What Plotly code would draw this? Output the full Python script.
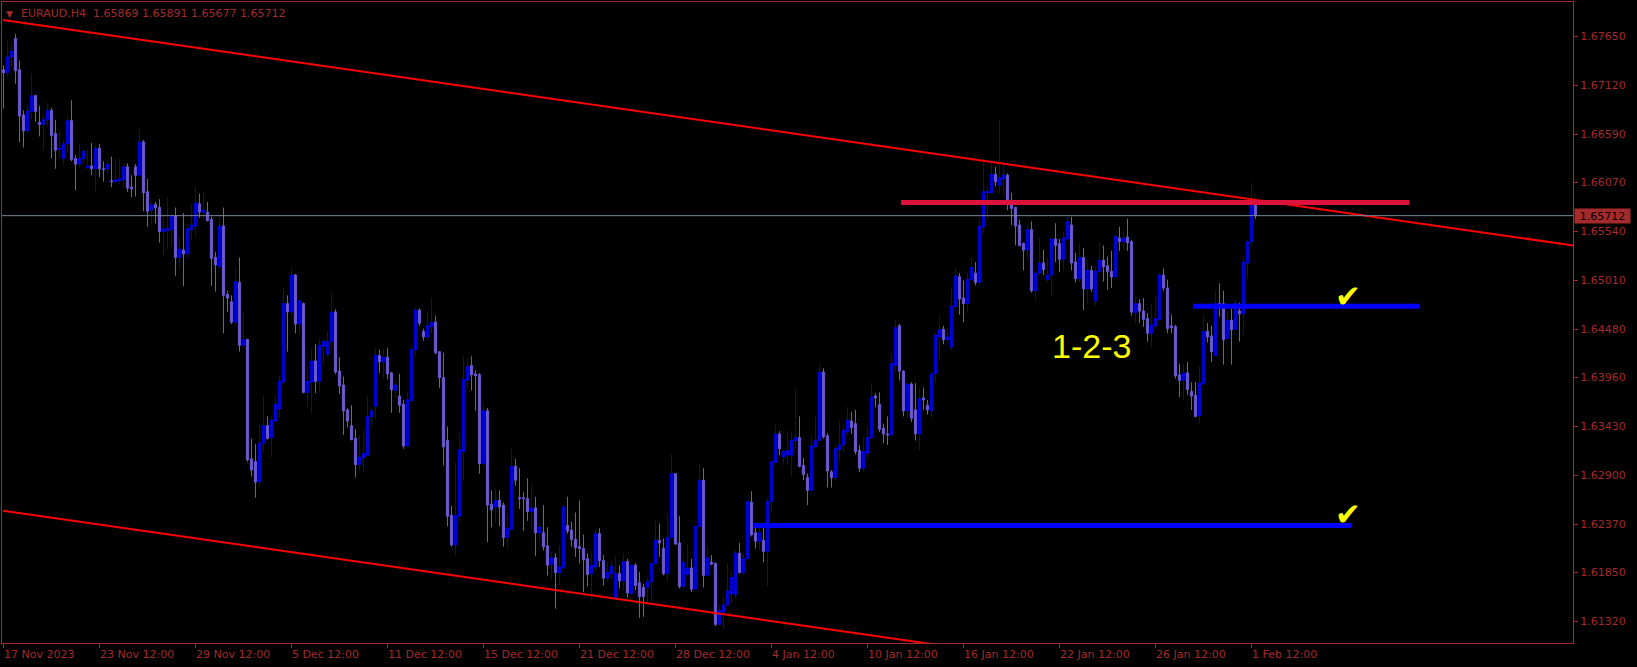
import plotly.graph_objects as go

# ---------------- data (EURAUD H4, bar index 0 = 17 Nov 2023 00:00) ----------------
opens = [
    1.6729, 1.6726, 1.6743, 1.6763, 1.6729, 1.6680, 1.6663, 1.6684, 1.6701, 1.6672,
    1.6670, 1.6675, 1.6685, 1.6660, 1.6643, 1.6633, 1.6649, 1.6674, 1.6633, 1.6627,
    1.6633, 1.6623, 1.6625, 1.6622, 1.6644, 1.6622, 1.6622, 1.6609, 1.6608, 1.6609,
    1.6610, 1.6624, 1.6602, 1.6624, 1.6615, 1.6651, 1.6597, 1.6577, 1.6583, 1.6580,
    1.6554, 1.6555, 1.6556, 1.6571, 1.6526, 1.6534, 1.6530, 1.6556, 1.6560, 1.6584,
    1.6575, 1.6575, 1.6567, 1.6526, 1.6516, 1.6560, 1.6486, 1.6478, 1.6456, 1.6499,
    1.6431, 1.6437, 1.6308, 1.6305, 1.6283, 1.6325, 1.6344, 1.6331, 1.6349, 1.6362,
    1.6391, 1.6476, 1.6467, 1.6507, 1.6454, 1.6476, 1.6380, 1.6391, 1.6414, 1.6392,
    1.6430, 1.6421, 1.6435, 1.6467, 1.6403, 1.6388, 1.6361, 1.6344, 1.6330, 1.6302,
    1.6309, 1.6312, 1.6354, 1.6365, 1.6420, 1.6413, 1.6418, 1.6401, 1.6382, 1.6376,
    1.6367, 1.6322, 1.6371, 1.6426, 1.6469, 1.6446, 1.6440, 1.6451, 1.6456, 1.6424,
    1.6396, 1.6328, 1.6247, 1.6215, 1.6246, 1.6316, 1.6393, 1.6409, 1.6400, 1.6399,
    1.6303, 1.6360, 1.6259, 1.6256, 1.6263, 1.6258, 1.6223, 1.6232, 1.6300, 1.6266,
    1.6266, 1.6265, 1.6251, 1.6255, 1.6228, 1.6228, 1.6214, 1.6194, 1.6201, 1.6185,
    1.6190, 1.6236, 1.6231, 1.6221, 1.6213, 1.6211, 1.6200, 1.6184, 1.6191, 1.6227,
    1.6198, 1.6179, 1.6184, 1.6158, 1.6184, 1.6176, 1.6197, 1.6162, 1.6193, 1.6174,
    1.6169, 1.6169, 1.6175, 1.6195, 1.6220, 1.6211, 1.6184, 1.6223, 1.6292, 1.6217,
    1.6170, 1.6183, 1.6190, 1.6167, 1.6235, 1.6285, 1.6182, 1.6196, 1.6195, 1.6129,
    1.6142, 1.6150, 1.6162, 1.6161, 1.6206, 1.6185, 1.6200, 1.6261, 1.6228, 1.6219,
    1.6220, 1.6208, 1.6262, 1.6304, 1.6335, 1.6310, 1.6312, 1.6312, 1.6328, 1.6331,
    1.6301, 1.6288, 1.6274, 1.6321, 1.6328, 1.6402, 1.6333, 1.6294, 1.6288, 1.6318,
    1.6323, 1.6337, 1.6349, 1.6346, 1.6317, 1.6298, 1.6314, 1.6331, 1.6376, 1.6367,
    1.6341, 1.6335, 1.6334, 1.6409, 1.6452, 1.6403, 1.6360, 1.6389, 1.6361, 1.6335,
    1.6374, 1.6366, 1.6360, 1.6400, 1.6440, 1.6448, 1.6437, 1.6429, 1.6473, 1.6505,
    1.6482, 1.6476, 1.6502, 1.6509, 1.6499, 1.6559, 1.6596, 1.6596, 1.6616, 1.6604,
    1.6611, 1.6615, 1.6583, 1.6580, 1.6561, 1.6541, 1.6534, 1.6556, 1.6490, 1.6509,
    1.6520, 1.6502, 1.6507, 1.6546, 1.6541, 1.6524, 1.6546, 1.6561, 1.6521, 1.6503,
    1.6526, 1.6492, 1.6512, 1.6479, 1.6511, 1.6523, 1.6517, 1.6511, 1.6505, 1.6547,
    1.6543, 1.6548, 1.6543, 1.6466, 1.6476, 1.6468, 1.6460, 1.6444, 1.6452, 1.6459,
    1.6507, 1.6493, 1.6452, 1.6451, 1.6399, 1.6393, 1.6401, 1.6381, 1.6377, 1.6355,
    1.6389, 1.6446, 1.6441, 1.6420, 1.6476, 1.6476, 1.6438, 1.6458, 1.6448, 1.6468,
    1.6465, 1.6520, 1.6543, 1.65869,
]
highs = [
    1.6734, 1.6761, 1.6755, 1.6768, 1.6739, 1.6685, 1.6691, 1.6725, 1.6702, 1.6690,
    1.6680, 1.6693, 1.6688, 1.6675, 1.6662, 1.6653, 1.6678, 1.6696, 1.6637, 1.6649,
    1.6643, 1.6642, 1.6650, 1.6648, 1.6649, 1.6630, 1.6630, 1.6635, 1.6633, 1.6633,
    1.6627, 1.6628, 1.6615, 1.6627, 1.6665, 1.6653, 1.6611, 1.6587, 1.6586, 1.6589,
    1.6571, 1.6591, 1.6574, 1.6580, 1.6547, 1.6574, 1.6562, 1.6583, 1.6603, 1.6595,
    1.6597, 1.6586, 1.6570, 1.6532, 1.6571, 1.6580, 1.6490, 1.6485, 1.6513, 1.6526,
    1.6467, 1.6438, 1.6330, 1.6324, 1.6346, 1.6377, 1.6354, 1.6354, 1.6376, 1.6398,
    1.6493, 1.6485, 1.6515, 1.6508, 1.6481, 1.6477, 1.6409, 1.6427, 1.6432, 1.6438,
    1.6438, 1.6446, 1.6487, 1.6470, 1.6418, 1.6397, 1.6363, 1.6366, 1.6340, 1.6334,
    1.6339, 1.6376, 1.6363, 1.6428, 1.6426, 1.6428, 1.6428, 1.6402, 1.6391, 1.6400,
    1.6372, 1.6381, 1.6429, 1.6472, 1.6471, 1.6449, 1.6467, 1.6482, 1.6463, 1.6424,
    1.6423, 1.6343, 1.6257, 1.6304, 1.6336, 1.6419, 1.6417, 1.6419, 1.6404, 1.6401,
    1.6367, 1.6363, 1.6274, 1.6277, 1.6274, 1.6261, 1.6249, 1.6319, 1.6308, 1.6298,
    1.6272, 1.6287, 1.6280, 1.6267, 1.6238, 1.6258, 1.6234, 1.6207, 1.6206, 1.6214,
    1.6258, 1.6267, 1.6240, 1.6250, 1.6263, 1.6226, 1.6206, 1.6206, 1.6231, 1.6233,
    1.6204, 1.6197, 1.6197, 1.6203, 1.6193, 1.6206, 1.6200, 1.6195, 1.6195, 1.6186,
    1.6173, 1.6179, 1.6197, 1.6241, 1.6238, 1.6222, 1.6249, 1.6313, 1.6292, 1.6246,
    1.6200, 1.6215, 1.6200, 1.6236, 1.6303, 1.6298, 1.6213, 1.6204, 1.6196, 1.6150,
    1.6159, 1.6195, 1.6185, 1.6209, 1.6217, 1.6206, 1.6262, 1.6273, 1.6238, 1.6239,
    1.6238, 1.6265, 1.6306, 1.6345, 1.6338, 1.6318, 1.6338, 1.6338, 1.6383, 1.6354,
    1.6309, 1.6292, 1.6332, 1.6354, 1.6410, 1.6406, 1.6336, 1.6296, 1.6323, 1.6349,
    1.6344, 1.6364, 1.6359, 1.6361, 1.6323, 1.6332, 1.6343, 1.6390, 1.6379, 1.6380,
    1.6346, 1.6354, 1.6422, 1.6459, 1.6454, 1.6404, 1.6389, 1.6391, 1.6390, 1.6384,
    1.6385, 1.6372, 1.6402, 1.6444, 1.6463, 1.6452, 1.6449, 1.6493, 1.6516, 1.6509,
    1.6501, 1.6509, 1.6526, 1.6521, 1.6569, 1.6631, 1.6603, 1.6630, 1.6624, 1.6675,
    1.6630, 1.6617, 1.6596, 1.6581, 1.6567, 1.6542, 1.6561, 1.6565, 1.6510, 1.6548,
    1.6534, 1.6526, 1.6549, 1.6563, 1.6546, 1.6554, 1.6570, 1.6570, 1.6531, 1.6541,
    1.6536, 1.6524, 1.6517, 1.6517, 1.6542, 1.6539, 1.6527, 1.6533, 1.6551, 1.6559,
    1.6556, 1.6568, 1.6545, 1.6483, 1.6481, 1.6482, 1.6466, 1.6476, 1.6485, 1.6509,
    1.6514, 1.6502, 1.6464, 1.6453, 1.6411, 1.6411, 1.6413, 1.6391, 1.6391, 1.6408,
    1.6464, 1.6455, 1.6452, 1.6490, 1.6498, 1.6490, 1.6467, 1.6473, 1.6480, 1.6477,
    1.6527, 1.6545, 1.6606, 1.65891,
]
lows = [
    1.6687, 1.6721, 1.6732, 1.6714, 1.6651, 1.6645, 1.6661, 1.6676, 1.6673, 1.6657,
    1.6642, 1.6669, 1.6633, 1.6622, 1.6633, 1.6626, 1.6640, 1.6630, 1.6599, 1.6624,
    1.6628, 1.6622, 1.6615, 1.6597, 1.6613, 1.6608, 1.6617, 1.6602, 1.6607, 1.6605,
    1.6601, 1.6597, 1.6591, 1.6592, 1.6614, 1.6576, 1.6559, 1.6562, 1.6563, 1.6542,
    1.6528, 1.6535, 1.6539, 1.6506, 1.6516, 1.6495, 1.6525, 1.6545, 1.6549, 1.6569,
    1.6568, 1.6565, 1.6495, 1.6489, 1.6515, 1.6444, 1.6467, 1.6454, 1.6452, 1.6424,
    1.6429, 1.6305, 1.6289, 1.6266, 1.6277, 1.6315, 1.6329, 1.6310, 1.6348, 1.6352,
    1.6388, 1.6424, 1.6463, 1.6444, 1.6444, 1.6379, 1.6364, 1.6357, 1.6379, 1.6381,
    1.6412, 1.6419, 1.6430, 1.6400, 1.6378, 1.6334, 1.6342, 1.6328, 1.6288, 1.6295,
    1.6293, 1.6311, 1.6343, 1.6351, 1.6401, 1.6395, 1.6394, 1.6358, 1.6374, 1.6358,
    1.6319, 1.6321, 1.6368, 1.6419, 1.6452, 1.6436, 1.6437, 1.6444, 1.6421, 1.6385,
    1.6301, 1.6235, 1.6213, 1.6204, 1.6240, 1.6284, 1.6385, 1.6382, 1.6360, 1.6292,
    1.6300, 1.6218, 1.6234, 1.6239, 1.6235, 1.6213, 1.6212, 1.6231, 1.6279, 1.6254,
    1.6230, 1.6241, 1.6231, 1.6203, 1.6220, 1.6209, 1.6182, 1.6178, 1.6146, 1.6171,
    1.6189, 1.6227, 1.6213, 1.6202, 1.6195, 1.6164, 1.6170, 1.6154, 1.6187, 1.6191,
    1.6171, 1.6175, 1.6178, 1.6157, 1.6168, 1.6166, 1.6158, 1.6162, 1.6166, 1.6136,
    1.6137, 1.6152, 1.6152, 1.6193, 1.6202, 1.6182, 1.6175, 1.6222, 1.6215, 1.6168,
    1.6170, 1.6182, 1.6164, 1.6166, 1.6234, 1.6169, 1.6182, 1.6193, 1.6127, 1.6128,
    1.6124, 1.6149, 1.6151, 1.6157, 1.6184, 1.6183, 1.6200, 1.6224, 1.6211, 1.6209,
    1.6196, 1.6170, 1.6251, 1.6301, 1.6312, 1.6301, 1.6301, 1.6289, 1.6318, 1.6299,
    1.6285, 1.6258, 1.6274, 1.6321, 1.6328, 1.6330, 1.6277, 1.6277, 1.6284, 1.6305,
    1.6316, 1.6333, 1.6335, 1.6313, 1.6294, 1.6294, 1.6308, 1.6330, 1.6364, 1.6337,
    1.6325, 1.6323, 1.6333, 1.6402, 1.6393, 1.6354, 1.6353, 1.6348, 1.6328, 1.6317,
    1.6361, 1.6356, 1.6352, 1.6391, 1.6416, 1.6432, 1.6435, 1.6426, 1.6471, 1.6464,
    1.6456, 1.6466, 1.6502, 1.6496, 1.6498, 1.6552, 1.6565, 1.6595, 1.6603, 1.6595,
    1.6594, 1.6577, 1.6561, 1.6539, 1.6538, 1.6512, 1.6524, 1.6488, 1.6480, 1.6507,
    1.6507, 1.6499, 1.6484, 1.6521, 1.6510, 1.6512, 1.6545, 1.6512, 1.6499, 1.6499,
    1.6469, 1.6476, 1.6489, 1.6474, 1.6509, 1.6500, 1.6491, 1.6493, 1.6504, 1.6533,
    1.6534, 1.6533, 1.6463, 1.6455, 1.6455, 1.6451, 1.6435, 1.6429, 1.6448, 1.6458,
    1.6490, 1.6444, 1.6444, 1.6395, 1.6375, 1.6372, 1.6377, 1.6361, 1.6353, 1.6346,
    1.6388, 1.6434, 1.6413, 1.6419, 1.6462, 1.6410, 1.6437, 1.6410, 1.6447, 1.6435,
    1.6442, 1.6504, 1.6538, 1.65677,
]
closes = [
    1.6726, 1.6743, 1.6749, 1.6728, 1.6679, 1.6663, 1.6684, 1.6701, 1.6684, 1.6670,
    1.6675, 1.6685, 1.6658, 1.6642, 1.6644, 1.6649, 1.6674, 1.6632, 1.6627, 1.6633,
    1.6641, 1.6625, 1.6622, 1.6644, 1.6622, 1.6621, 1.6627, 1.6608, 1.6610, 1.6611,
    1.6624, 1.6601, 1.6600, 1.6615, 1.6651, 1.6596, 1.6576, 1.6583, 1.6580, 1.6554,
    1.6557, 1.6557, 1.6571, 1.6526, 1.6535, 1.6530, 1.6557, 1.6561, 1.6585, 1.6575,
    1.6577, 1.6566, 1.6525, 1.6518, 1.6560, 1.6485, 1.6482, 1.6456, 1.6500, 1.6431,
    1.6437, 1.6307, 1.6296, 1.6283, 1.6325, 1.6344, 1.6330, 1.6350, 1.6367, 1.6392,
    1.6476, 1.6467, 1.6507, 1.6454, 1.6479, 1.6380, 1.6392, 1.6414, 1.6392, 1.6431,
    1.6435, 1.6435, 1.6467, 1.6402, 1.6387, 1.6360, 1.6349, 1.6329, 1.6302, 1.6310,
    1.6314, 1.6354, 1.6360, 1.6420, 1.6413, 1.6418, 1.6400, 1.6383, 1.6388, 1.6366,
    1.6322, 1.6372, 1.6426, 1.6469, 1.6455, 1.6440, 1.6452, 1.6456, 1.6423, 1.6396,
    1.6321, 1.6246, 1.6215, 1.6247, 1.6318, 1.6394, 1.6408, 1.6399, 1.6398, 1.6303,
    1.6360, 1.6258, 1.6253, 1.6263, 1.6256, 1.6223, 1.6233, 1.6300, 1.6285, 1.6265,
    1.6265, 1.6251, 1.6255, 1.6228, 1.6234, 1.6213, 1.6193, 1.6201, 1.6185, 1.6191,
    1.6256, 1.6230, 1.6221, 1.6212, 1.6211, 1.6199, 1.6183, 1.6193, 1.6227, 1.6198,
    1.6179, 1.6185, 1.6192, 1.6184, 1.6176, 1.6197, 1.6163, 1.6193, 1.6171, 1.6159,
    1.6159, 1.6175, 1.6195, 1.6220, 1.6217, 1.6184, 1.6223, 1.6292, 1.6216, 1.6170,
    1.6196, 1.6190, 1.6167, 1.6235, 1.6285, 1.6182, 1.6201, 1.6194, 1.6129, 1.6144,
    1.6150, 1.6165, 1.6180, 1.6206, 1.6185, 1.6200, 1.6262, 1.6226, 1.6219, 1.6228,
    1.6208, 1.6262, 1.6305, 1.6335, 1.6319, 1.6316, 1.6317, 1.6328, 1.6331, 1.6300,
    1.6291, 1.6274, 1.6322, 1.6328, 1.6402, 1.6332, 1.6295, 1.6288, 1.6319, 1.6323,
    1.6339, 1.6350, 1.6342, 1.6316, 1.6298, 1.6316, 1.6331, 1.6375, 1.6374, 1.6340,
    1.6335, 1.6334, 1.6411, 1.6450, 1.6403, 1.6360, 1.6389, 1.6352, 1.6335, 1.6373,
    1.6372, 1.6361, 1.6400, 1.6442, 1.6448, 1.6437, 1.6440, 1.6473, 1.6506, 1.6481,
    1.6476, 1.6502, 1.6515, 1.6499, 1.6560, 1.6597, 1.6597, 1.6616, 1.6608, 1.6612,
    1.6615, 1.6583, 1.6579, 1.6560, 1.6539, 1.6534, 1.6556, 1.6490, 1.6509, 1.6520,
    1.6513, 1.6507, 1.6546, 1.6539, 1.6524, 1.6547, 1.6565, 1.6520, 1.6503, 1.6526,
    1.6492, 1.6512, 1.6492, 1.6511, 1.6523, 1.6516, 1.6511, 1.6505, 1.6549, 1.6543,
    1.6547, 1.6542, 1.6467, 1.6476, 1.6468, 1.6459, 1.6444, 1.6453, 1.6460, 1.6507,
    1.6493, 1.6449, 1.6450, 1.6398, 1.6393, 1.6401, 1.6383, 1.6376, 1.6354, 1.6390,
    1.6446, 1.6440, 1.6424, 1.6476, 1.6474, 1.6437, 1.6458, 1.6448, 1.6476, 1.6465,
    1.6521, 1.6543, 1.6588, 1.65712,
]
assert len(opens) == len(highs) == len(lows) == len(closes), (len(opens), len(highs), len(lows), len(closes))

bar_index = list(range(len(opens)))

# date labels every 24 bars
xtick_bars = [0, 24, 48, 72, 96, 120, 144, 168, 192, 216, 240, 264, 288, 312]
xtick_labels = ["17 Nov 2023", "23 Nov 12:00", "29 Nov 12:00", "5 Dec 12:00", "11 Dec 12:00",
                "15 Dec 12:00", "21 Dec 12:00", "28 Dec 12:00", "4 Jan 12:00", "10 Jan 12:00",
                "16 Jan 12:00", "22 Jan 12:00", "26 Jan 12:00", "1 Feb 12:00"]
ytick_vals = [1.61320, 1.61850, 1.62370, 1.62900, 1.63430, 1.63960, 1.64480,
              1.65010, 1.65540, 1.66070, 1.66590, 1.67120, 1.67650]

# drawn objects (bar index, price)
channel_x = [-0.125, 392.375]
channel_upper = [1.6783, 1.6539]
channel_lower = [1.6252, 1.6008]
resistance_x = [224.4, 351.5]
resistance_level = 1.65855
target1_x = [297.4, 354.1]
target1_level = 1.64732
target2_x = [187.5, 337.1]
target2_level = 1.6236
last_price = 1.65712
header_text = "EURAUD,H4\u00a0\u00a01.65869 1.65891 1.65677 1.65712"

# ---------------- styling ----------------
FG = "#A52A2A"
BULL = "#0000DD"
BEAR = "#6A5ACD"
FONT = "DejaVu Sans"

fig = go.Figure()
fig.add_trace(go.Candlestick(
    x=bar_index, open=opens, high=highs, low=lows, close=closes,
    increasing=dict(line=dict(color=BULL, width=1), fillcolor=BULL),
    decreasing=dict(line=dict(color=BEAR, width=1), fillcolor=BEAR),
    whiskerwidth=0, hoverinfo="skip", showlegend=False,
))

def hline(xs, ys, color, width):
    fig.add_trace(go.Scatter(x=xs, y=ys, mode="lines", line=dict(color=color, width=width),
                             hoverinfo="skip", showlegend=False))

hline(channel_x, channel_upper, "#FF0000", 2)
hline(channel_x, channel_lower, "#FF0000", 2)
hline(resistance_x, [resistance_level] * 2, "#DC143C", 5)
hline(target1_x, [target1_level] * 2, "#0000FF", 5)
hline(target2_x, [target2_level] * 2, "#0000FF", 5)

# bid line
fig.add_shape(type="line", xref="paper", x0=0, x1=1, yref="y", y0=last_price, y1=last_price,
              line=dict(color="#778899", width=1), layer="above")

# x labels (left aligned, MT4 style)
for b, lab in zip(xtick_bars, xtick_labels):
    fig.add_annotation(x=b, xref="x", y=0, yref="paper", xanchor="left", yanchor="top",
                       xshift=-2, yshift=-3, text=lab, showarrow=False,
                       font=dict(family=FONT, size=11, color=FG))

# header
fig.add_annotation(x=0, xref="paper", y=1, yref="paper", xanchor="left", yanchor="top",
                   xshift=2, yshift=-5, text="\u25BC", showarrow=False,
                   font=dict(family=FONT, size=9, color=FG))
fig.add_annotation(x=0, xref="paper", y=1, yref="paper", xanchor="left", yanchor="top",
                   xshift=17, yshift=-3, text=header_text, showarrow=False,
                   font=dict(family=FONT, size=11, color=FG))

# last price tag
fig.add_annotation(x=1, xref="paper", y=last_price, yref="y", xanchor="left", yanchor="middle",
                   xshift=1, text=f"{last_price:.5f}", showarrow=False, bgcolor=FG,
                   width=53, height=12, borderpad=1,
                   font=dict(family=FONT, size=11, color="#000000"))

# pattern label and check marks
fig.add_annotation(x=271.9, y=1.64302, xref="x", yref="y", text="1-2-3", showarrow=False,
                   font=dict(family="Liberation Sans", size=34, color="#FFFF00"))
for yv in (1.64840, 1.62480):
    fig.add_annotation(x=336.2, y=yv, xref="x", yref="y", text="\u2714", showarrow=False,
                       font=dict(family=FONT, size=31, color="#FFFF00"))

fig.update_layout(
    template="none",
    width=1637, height=667,
    margin=dict(l=2, r=64, t=2, b=24, pad=0),
    paper_bgcolor="#000000", plot_bgcolor="#000000",
    showlegend=False,
    boxgap=0.2,
    xaxis=dict(range=[-0.375, 392.375], showgrid=False, zeroline=False, showline=True,
               mirror=True, linecolor=FG, linewidth=1, ticks="outside", ticklen=4,
               tickcolor=FG, tickvals=xtick_bars, showticklabels=False,
               rangeslider=dict(visible=False), automargin=False, fixedrange=True),
    yaxis=dict(side="right", range=[1.61088, 1.68024], showgrid=False, zeroline=False,
               showline=True, mirror=True, linecolor=FG, linewidth=1, ticks="outside",
               ticklen=4, tickcolor=FG, tickvals=ytick_vals,
               ticktext=[f"{v:.5f}" for v in ytick_vals],
               tickfont=dict(family=FONT, size=11, color=FG), automargin=False,
               fixedrange=True),
)

fig.write_html("out.html", config={"displayModeBar": False},
               post_script="document.body.style.margin='0';")
